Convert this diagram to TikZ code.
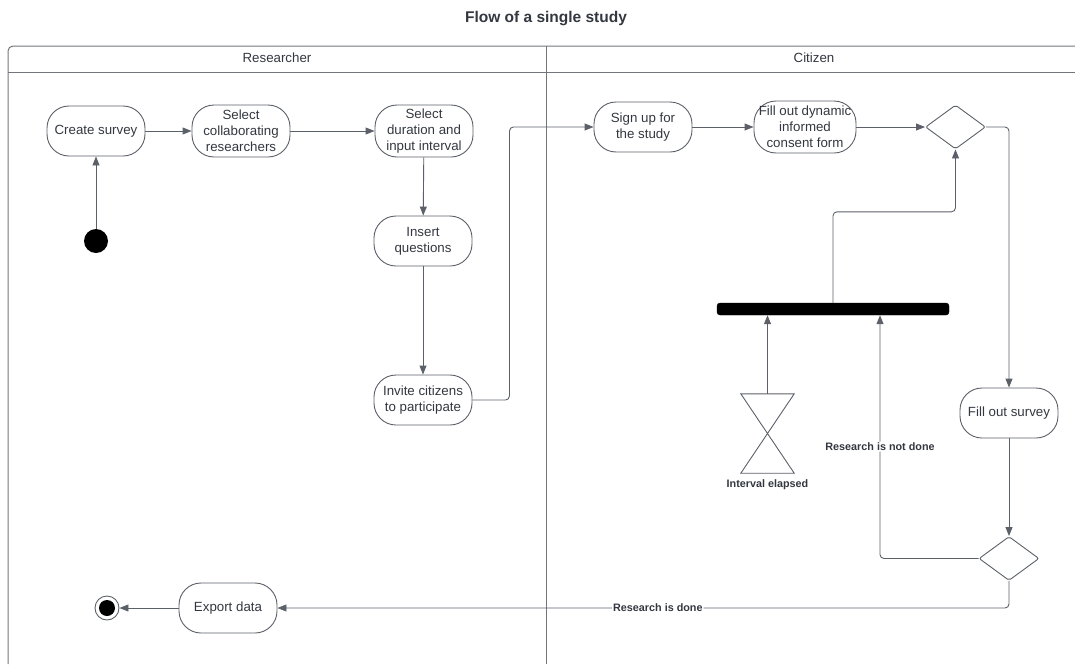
\documentclass[tikz,border=0pt]{standalone}
\usepackage{fontspec}
\setmainfont{Liberation Sans}
\usetikzlibrary{arrows.meta,shapes.geometric,calc}
\definecolor{inkline}{HTML}{5C6068}
\definecolor{inktext}{HTML}{333840}
\definecolor{laneline}{HTML}{72767C}
\begin{document}
\begin{tikzpicture}[x=1pt,y=-1pt,
  every node/.style={text=inktext},
  action/.style={draw=inkline, line width=0.9pt, rounded corners=22pt, fill=white,
    minimum width=98pt, minimum height=50pt, align=center, inner sep=2pt,
    font=\fontsize{13.3}{16}\selectfont},
  decision/.style={draw=inkline, line width=0.9pt, diamond, rounded corners=2pt,
    minimum width=60pt, minimum height=44pt, inner sep=0pt},
  flow/.style={draw=inkline, line width=0.9pt, rounded corners=4pt,
    -{Triangle[length=9pt,width=7pt]}},
  guard/.style={fill=white, inner sep=1pt, font=\bfseries\fontsize{10.8}{12}\selectfont},
  lane/.style={draw=laneline, line width=1pt}
]
\useasboundingbox (0,0) rectangle (1075,664);

% title
\node[font=\bfseries\fontsize{15.5}{18}\selectfont] (title) at (546,19) {Flow of a single study};

% swimlane frame
\draw[lane, rounded corners=5pt] (8,664) -- (8,46) -- (1078,46);
\draw[lane] (8,72) -- (1078,72);
\draw[lane] (546,46) -- (546,664);
\node[font=\fontsize{13.3}{16}\selectfont] (laneR) at (277,58) {Researcher};
\node[font=\fontsize{13.3}{16}\selectfont] (laneC) at (814,58) {Citizen};

% researcher lane
\node[circle, fill=black, minimum size=24pt, inner sep=0pt] (start) at (96,241) {};
\node[action] (create) at (96,131) {Create survey};
\node[action, minimum height=52pt] (collab) at (241,131) {Select\\collaborating\\researchers};
\node[action, minimum height=52pt] (dur) at (424,131) {Select\\duration and\\input interval};
\node[action] (ins) at (423,241) {Insert\\questions};
\node[action] (inv) at (423,400) {Invite citizens\\to participate};
\node[action] (exp) at (228,608) {Export data};
\node[circle, draw=inkline, line width=0.9pt, fill=white, minimum size=24pt, inner sep=0pt] (final) at (107,608) {};
\fill[black] (final.center) circle (8pt);

% citizen lane
\node[action] (sign) at (643,127) {Sign up for\\the study};
\node[action, minimum width=102pt, minimum height=52pt] (consent) at (805,127) {Fill out dynamic\\informed\\consent form};
\node[decision] (d1) at (955.5,127) {};
\node[draw=black, fill=black, rounded corners=3pt, minimum width=232pt, minimum height=12pt, inner sep=0pt] (bar) at (833,309) {};
\node[minimum width=53pt, minimum height=79pt, inner sep=0pt] (hg) at (767.5,433.5) {};
\draw[inkline, line width=0.9pt] (hg.north west) -- (hg.north east) -- (hg.south west) -- (hg.south east) -- cycle;
\node[font=\bfseries\fontsize{10.8}{12}\selectfont] (hglabel) at (767.5,485) {Interval elapsed};
\node[action] (fill) at (1009,413) {Fill out survey};
\node[decision] (d2) at (1009,558.5) {};
\coordinate (nd) at ($(bar.south)+(47,0)$);

% flows
\draw[flow] (start) -- (create);
\draw[flow] (create) -- (collab);
\draw[flow] (collab) -- (dur);
\draw[flow] (dur) -- (ins);
\draw[flow] (ins) -- (inv);
\draw[flow] (inv.east) -- ++(37,0) |- (sign.west);
\draw[flow] (sign) -- (consent);
\draw[flow] (consent) -- (d1);
\draw[flow] (d1.east) -| (fill.north);
\draw[flow] (bar.north) -- ++(0,-91) -| (d1.south);
\draw[flow] (hg.north) -- (hg.north |- bar.south);
\draw[flow] (fill) -- (d2);
\draw[flow] (d2.west) -| (nd) node[guard, pos=0.73] {Research is not done};
\draw[flow] (d2.south) |- (exp.east) node[guard, pos=0.74] {Research is done};
\draw[flow] (exp) -- (final);
\end{tikzpicture}
\end{document}
